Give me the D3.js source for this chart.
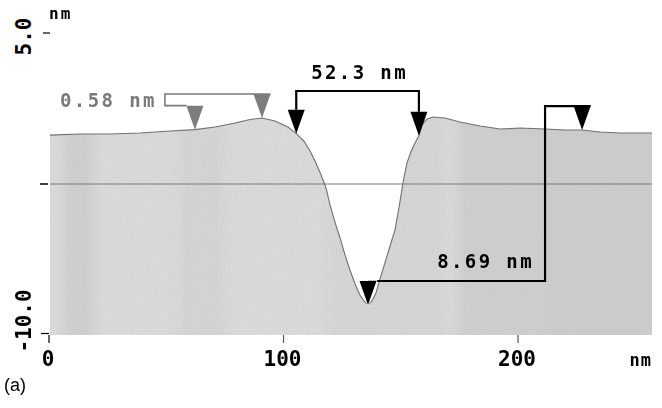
<!DOCTYPE html>
<html>
<head>
<meta charset="utf-8">
<script src="https://cdn.jsdelivr.net/npm/d3@7/dist/d3.min.js"></script>
<style>
  html, body { margin: 0; padding: 0; background: #fff; }
  svg { display: block; }
  .mono { font-family: "DejaVu Sans Mono", monospace; font-weight: bold; }
</style>
</head>
<body>
<svg id="chart" width="662" height="408"></svg>
<script>
// Section profile (distance in nm, height in nm)
const profileX = [0.0, 12.8, 25.6, 38.4, 51.2, 61.8, 70.4, 78.9, 85.3, 90.4, 95.9, 101.5,
  105.0, 108.3, 110.9, 113.4, 115.6, 117.7, 119.4, 121.5, 123.7, 125.8, 127.9, 130.1,
  132.2, 133.9, 135.6, 137.3, 139.0, 140.7, 142.9, 145.0, 147.1, 148.8, 150.5, 152.2,
  153.9, 155.2, 157.3, 158.6, 160.8, 163.3, 168.4, 174.8, 183.4, 191.9, 200.4, 211.1,
  219.6, 226.9, 234.5, 243.1, 256.7];
const profileZ = [-0.07, -0.02, -0.02, 0.03, 0.13, 0.20, 0.33, 0.53, 0.70, 0.78, 0.63, 0.33,
  0.00, -0.37, -0.86, -1.46, -2.05, -2.70, -3.54, -4.39, -5.18, -6.03, -6.77, -7.47,
  -8.02, -8.31, -8.51, -8.31, -7.92, -7.22, -6.38, -5.58, -4.79, -3.69, -2.45, -1.46,
  -0.91, -0.56, -0.10, 0.43, 0.73, 0.83, 0.78, 0.58, 0.38, 0.23, 0.28, 0.23,
  0.18, 0.18, 0.08, 0.03, 0.03];

// Axis ticks and labels
const xTicks = [0, 100, 200];
const yTicks = [5.0, -10.0];
const yTickLabels = ["5.0", "-10.0"];
const unitLabel = "nm";

// Cursor pairs (positions in nm along the profile) and their readouts
const heightCursors = [61.8, 90.4];   const heightLabel = "0.58 nm";
const widthCursors = [105.0, 157.3];  const widthLabel = "52.3 nm";
const depthCursors = [135.6, 226.9];  const depthLabel = "8.69 nm";

// Bracket anchors (nm)
const heightBracketX = 49.0;
const widthBracketZ = 2.12;
const depthBracketX = 211.1;

const svg = d3.select("#chart");
const x = d3.scaleLinear().domain([0, 256.7]).range([50, 652]);
const y = d3.scaleLinear().domain([-10, 5]).range([335, 33]);
const mid = (y.domain()[0] + y.domain()[1]) / 2;

const pts = profileX.map((d, i) => [d, profileZ[i]]);
const zAt = v => profileZ[profileX.indexOf(v)];

// Surface fill with soft shading streaks and speckle
const defs = svg.append("defs");
defs.append("clipPath").attr("id", "surf")
  .append("path")
  .attr("d", d3.area().x(d => x(d[0])).y0(y(-10)).y1(d => y(d[1]))(pts));

const soft = defs.append("filter").attr("id", "soft")
  .attr("x", -0.2).attr("y", -0.2).attr("width", 1.4).attr("height", 1.4);
soft.append("feGaussianBlur").attr("stdDeviation", 5);

const noise = defs.append("filter").attr("id", "grain")
  .attr("x", 0).attr("y", 0).attr("width", 1).attr("height", 1);
noise.append("feTurbulence").attr("type", "fractalNoise").attr("baseFrequency", 0.35)
  .attr("numOctaves", 2).attr("seed", 7).attr("result", "n");
noise.append("feColorMatrix").attr("type", "matrix")
  .attr("values", "0 0 0 0 0.6  0 0 0 0 0.6  0 0 0 0 0.6  3 0 0 0 -1.45");

const surf = svg.append("g").attr("clip-path", "url(#surf)");
surf.append("rect").attr("x", x(0)).attr("y", y(5)).attr("width", x(256.7) - x(0))
  .attr("height", y(-10) - y(5)).attr("fill", "#d9d9d9");
const bands = [
  [6, 18, "#cbcbcb", 0.8], [56, 74, "#cfcfcf", 0.6], [120, 168, "#d0d0d0", 0.5],
  [174, 262, "#cdcdcd", 1], [212, 262, "#cacaca", 0.6]
];
surf.append("g").attr("filter", "url(#soft)")
  .selectAll("rect").data(bands).join("rect")
  .attr("x", d => x(d[0])).attr("width", d => x(d[1]) - x(d[0]))
  .attr("y", y(5)).attr("height", y(-10) - y(5) + 20)
  .attr("fill", d => d[2]).attr("opacity", d => d[3]);
surf.append("rect").attr("x", x(0)).attr("y", y(5)).attr("width", x(256.7) - x(0))
  .attr("height", y(-10) - y(5)).attr("filter", "url(#grain)").attr("opacity", 0.3);

// Reference (mid-range) line
svg.append("line").attr("x1", x(0)).attr("x2", x(256.7))
  .attr("y1", y(mid)).attr("y2", y(mid)).attr("stroke", "#7a7a7a").attr("stroke-width", 1.2);
svg.append("line").attr("x1", x(0) - 10).attr("x2", x(0) - 2)
  .attr("y1", y(mid)).attr("y2", y(mid)).attr("stroke", "#000").attr("stroke-width", 1.5);

// Profile line
svg.append("path").datum(pts)
  .attr("d", d3.line().x(d => x(d[0])).y(d => y(d[1])))
  .attr("fill", "none").attr("stroke", "#707070").attr("stroke-width", 1.1);

// Axes ticks
svg.selectAll("line.xt").data(xTicks).join("line").attr("class", "xt")
  .attr("x1", d => x(d) - 1).attr("x2", d => x(d) - 1)
  .attr("y1", y(-10)).attr("y2", y(-10) + 8)
  .attr("stroke", d => d === 0 ? "#000" : "#555").attr("stroke-width", 1.2);
svg.append("line").attr("x1", x(0) - 9).attr("x2", x(0) - 1)
  .attr("y1", y(-10) - 1.5).attr("y2", y(-10) - 1.5).attr("stroke", "#000").attr("stroke-width", 1.2);
svg.append("line").attr("x1", x(0) - 7).attr("x2", x(0))
  .attr("y1", y(5)).attr("y2", y(5)).attr("stroke", "#000").attr("stroke-width", 1.2);

svg.selectAll("text.xl").data(xTicks).join("text").attr("class", "xl mono")
  .attr("x", d => x(d) - 2).attr("y", 366).attr("text-anchor", "middle")
  .attr("font-size", 21).text(d => d);
svg.append("text").attr("class", "mono").attr("x", 652).attr("y", 366)
  .attr("text-anchor", "end").attr("font-size", 17).attr("letter-spacing", 1).text(unitLabel);

svg.selectAll("text.yl").data(yTicks).join("text").attr("class", "yl mono")
  .attr("transform", (d, i) => `translate(31,${i === 0 ? 36.5 : 321}) rotate(-90)`)
  .attr("text-anchor", "middle").attr("font-size", 21).text((d, i) => yTickLabels[i]);
svg.append("text").attr("class", "mono").attr("x", 49).attr("y", 19)
  .attr("font-size", 16).attr("letter-spacing", 2).text(unitLabel);

svg.append("text").attr("x", 4).attr("y", 391)
  .attr("font-family", "Liberation Sans, Arial, sans-serif").attr("font-size", 18)
  .text("(a)");

// Cursor markers
const triH = 24, triW = 8.5;
function tri(px, py) {
  return `M${px},${py} L${px - triW},${py - triH} L${px + triW},${py - triH} Z`;
}

// Height pair (grey)
const grey = "#7c7c7c";
const hTop = heightCursors.map(c => y(zAt(c)) - triH);
svg.append("path")
  .attr("d", `M${x(heightCursors[0]) - triW},${hTop[0]} H${x(heightBracketX)} V${hTop[1]} H${x(heightCursors[1]) + triW}`)
  .attr("fill", "none").attr("stroke", grey).attr("stroke-width", 1.6);
svg.selectAll("path.hc").data(heightCursors).join("path").attr("class", "hc")
  .attr("d", c => tri(x(c), y(zAt(c)))).attr("fill", grey);
svg.append("text").attr("class", "mono").attr("x", x(heightBracketX) - 8).attr("y", 107)
  .attr("text-anchor", "end").attr("font-size", 19).attr("letter-spacing", 2.4)
  .attr("fill", "#7a7a7a").text(heightLabel);

// Width pair
const wTop = widthCursors.map(c => y(zAt(c)) - triH);
svg.append("path")
  .attr("d", `M${x(widthCursors[0])},${wTop[0]} V${y(widthBracketZ)} H${x(widthCursors[1])} V${wTop[1]}`)
  .attr("fill", "none").attr("stroke", "#000").attr("stroke-width", 2.2);
svg.selectAll("path.wc").data(widthCursors).join("path").attr("class", "wc")
  .attr("d", c => tri(x(c), y(zAt(c)))).attr("fill", "#000");
svg.append("text").attr("class", "mono")
  .attr("x", (x(widthCursors[0]) + x(widthCursors[1])) / 2 + 2).attr("y", 79)
  .attr("text-anchor", "middle").attr("font-size", 19).attr("letter-spacing", 2.4)
  .text(widthLabel);

// Depth pair
const dTop = depthCursors.map(c => y(zAt(c)) - triH);
svg.append("path")
  .attr("d", `M${x(depthCursors[0])},${dTop[0]} H${x(depthBracketX)} V${dTop[1]} H${x(depthCursors[1]) + triW}`)
  .attr("fill", "none").attr("stroke", "#000").attr("stroke-width", 2.2);
svg.selectAll("path.dc").data(depthCursors).join("path").attr("class", "dc")
  .attr("d", c => tri(x(c), y(zAt(c)))).attr("fill", "#000")
  .attr("stroke", (c, i) => i === 0 ? "#fff" : "none").attr("stroke-width", 1.5)
  .attr("paint-order", "stroke");
svg.append("text").attr("class", "mono").attr("x", x(depthBracketX) - 11).attr("y", 268)
  .attr("text-anchor", "end").attr("font-size", 19).attr("letter-spacing", 2.4)
  .text(depthLabel);
</script>
</body>
</html>
